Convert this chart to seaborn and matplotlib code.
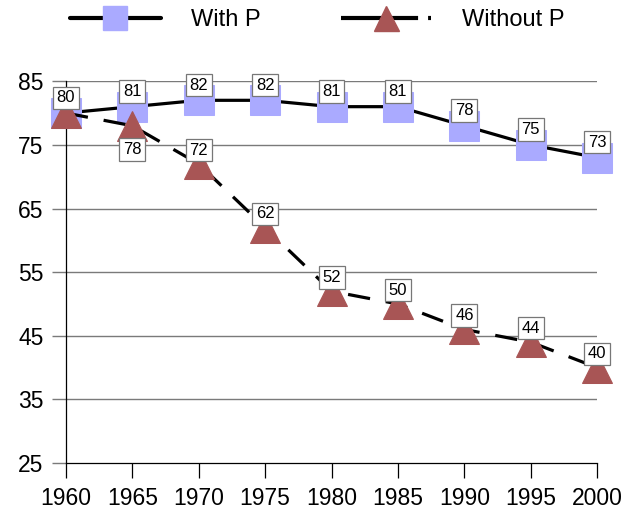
import matplotlib
matplotlib.use("Agg")
import matplotlib.pyplot as plt
from matplotlib.lines import Line2D
import seaborn as sns
import pandas as pd

years = [1960, 1965, 1970, 1975, 1980, 1985, 1990, 1995, 2000]
with_p = [80, 81, 82, 82, 81, 81, 78, 75, 73]
without_p = [80, 78, 72, 62, 52, 50, 46, 44, 40]
y_ticks = [25, 35, 45, 55, 65, 75, 85]

sns.set_style("white")
plt.rcParams['font.family'] = ['Liberation Sans', 'DejaVu Sans']
plt.rcParams['text.color'] = 'black'
plt.rcParams['xtick.labelcolor'] = 'black'
plt.rcParams['ytick.labelcolor'] = 'black'

df = pd.DataFrame({'year': years, 'With P': with_p, 'Without P': without_p})

fig = plt.figure(figsize=(6.34, 5.14), dpi=100)
ax = fig.add_axes([0.104, 0.099, 0.838, 0.743])

grid_col = '#7a7a7a'
for y in y_ticks[1:]:
    ax.axhline(y, color=grid_col, lw=1.0, zorder=0)

sq_col = '#aaaaff'
tri_col = '#a85555'
dash = (0, (7, 5))

sns.lineplot(data=df, x='year', y='With P', ax=ax, color='black', lw=2.3,
             marker='s', markersize=21, markerfacecolor=sq_col,
             markeredgecolor=sq_col, clip_on=False, zorder=3)
sns.lineplot(data=df, x='year', y='Without P', ax=ax, color='black', lw=2.3,
             linestyle=dash, marker='^', markersize=21,
             markerfacecolor=tri_col, markeredgecolor=tri_col,
             clip_on=False, zorder=4)

box = dict(boxstyle='square,pad=0.22', fc='white', ec='#777777', lw=0.9)
for x, v in zip(years, with_p):
    ax.annotate(str(v), (x, v), xytext=(0, 11), textcoords='offset points',
                ha='center', va='center', fontsize=12, color='black',
                bbox=box, zorder=6)
for i, (x, v) in enumerate(zip(years, without_p)):
    if i == 0:
        continue
    dy = -17 if i == 1 else 10
    ax.annotate(str(v), (x, v), xytext=(0, dy), textcoords='offset points',
                ha='center', va='center', fontsize=12, color='black',
                bbox=box, zorder=6)

ax.set_xlim(1960, 2000)
ax.set_ylim(25, 85)
ax.set_xticks(years)
ax.set_yticks(y_ticks)
ax.tick_params(axis='x', direction='out', length=11, width=0.9, color='black',
               labelsize=16.5, labelcolor='black', pad=6, bottom=True)
ax.tick_params(axis='y', direction='out', length=10, width=1.0, color=grid_col,
               labelsize=16.5, labelcolor='black', pad=6, left=True)
ax.set_xlabel('')
ax.set_ylabel('')
for s in ['top', 'right']:
    ax.spines[s].set_visible(False)
for s in ['left', 'bottom']:
    ax.spines[s].set_color('black')
    ax.spines[s].set_linewidth(0.9)

handles = [
    Line2D([], [], color='black', lw=3, marker='s', markersize=17,
           markerfacecolor=sq_col, markeredgecolor=sq_col),
    Line2D([], [], color='black', lw=3, linestyle=(0, (18.5, 2.4, 0.7, 5)),
           marker='^', markersize=18, markerfacecolor=tri_col,
           markeredgecolor=tri_col),
]
fig.legend(handles, ['With P', 'Without P'], loc='center',
           bbox_to_anchor=(0.5, 0.961), ncol=2, frameon=False, fontsize=17,
           handlelength=3.85, columnspacing=3.4, handletextpad=1.27,
           labelcolor='black')

fig.savefig('out.png', dpi=100)
